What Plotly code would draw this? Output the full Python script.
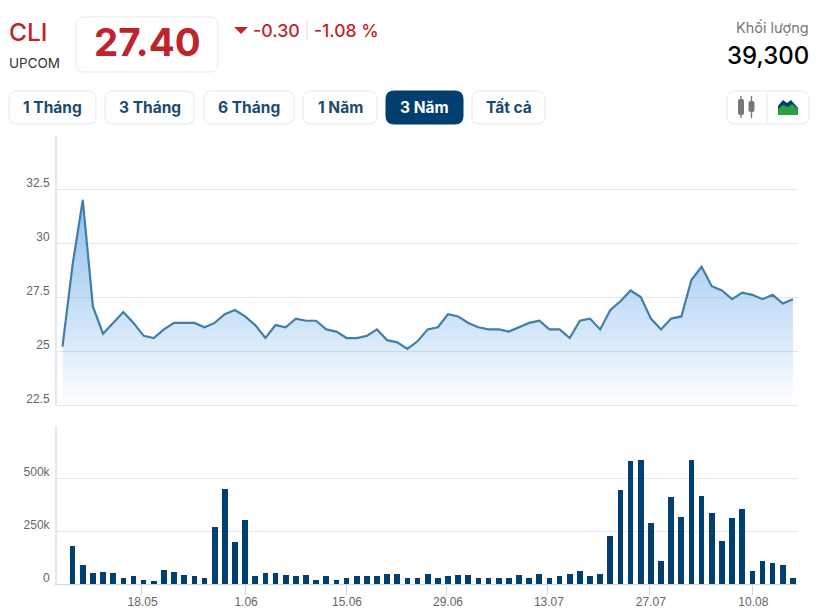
import plotly.graph_objects as go

W, H = 827, 609

price_idx = list(range(73))
close = [25.2, 29.0, 32.0, 27.05, 25.8, 26.3, 26.8, 26.3, 25.7, 25.6, 26.0, 26.3, 26.3, 26.3, 26.1, 26.3,
         26.7, 26.9, 26.6, 26.2, 25.6, 26.2, 26.1, 26.5, 26.4, 26.4, 26.0, 25.9, 25.6, 25.6, 25.7, 26.0,
         25.5, 25.4, 25.1, 25.45, 26.0, 26.1, 26.7, 26.6, 26.3, 26.1, 26.0, 26.0, 25.9, 26.1, 26.3, 26.4,
         26.0, 26.0, 25.6, 26.4, 26.5, 26.0, 26.9, 27.3, 27.8, 27.5, 26.5, 26.0, 26.5, 26.6, 28.3, 28.9,
         28.0, 27.8, 27.4, 27.7, 27.6, 27.4, 27.6, 27.2, 27.4]
floor_price = [22.5] * 73

volume_idx = list(range(1, 73))
volume = [185000, 91000, 54000, 59000, 54000, 33000, 38000, 22000, 17500, 70000, 59000, 43000, 38000, 29000,
          274000, 454000, 200000, 306000, 38000, 54000, 54000, 43000, 38000, 43000, 22000, 38000, 22000, 33000,
          38000, 38000, 38000, 48000, 48000, 33000, 33000, 48000, 33000, 38000, 43000, 43000, 33000, 29000,
          33000, 33000, 43000, 33000, 48000, 33000, 38000, 48000, 64000, 38000, 48000, 232000, 447000, 586000,
          591000, 290000, 113000, 416000, 322000, 591000, 420000, 338000, 207000, 317000, 358000, 64000, 113000,
          102000, 91000, 33000]

date_ticks = [7.8, 18, 27.95, 37.9, 47.85, 57.9, 68]
date_labels = ["18.05", "1.06", "15.06", "29.06", "13.07", "27.07", "10.08"]
price_ticks = [22.5, 25, 27.5, 30, 32.5, 35]
price_labels = ["22.5", "25", "27.5", "30", "32.5", ""]
vol_ticks = [0, 250000, 500000, 750000]
vol_labels = ["0", "250k", "500k", ""]

range_buttons = [("1 Tháng", 9, 96), ("3 Tháng", 105, 194), ("6 Tháng", 204, 294),
                 ("1 Năm", 303, 377), ("3 Năm", 386, 463), ("Tất cả", 472, 545)]
ACTIVE = "3 Năm"

NAVY = "#003f6f"
RED = "#c1232a"
GRID = "#e6e6e6"
AXIS = "#e3e7ee"
FONT = "Inter"
AXFONT = "Liberation Sans"


def px(x):
    return x / W


def py(y):
    return 1 - y / H


def rr(x0, y0, x1, y1, r):
    X0, X1, Y0, Y1 = px(x0), px(x1), py(y0), py(y1)
    rx, ry = r / W, r / H
    return (f"M {X0+rx} {Y0} L {X1-rx} {Y0} Q {X1} {Y0} {X1} {Y0-ry} L {X1} {Y1+ry} Q {X1} {Y1} {X1-rx} {Y1} "
            f"L {X0+rx} {Y1} Q {X0} {Y1} {X0} {Y1+ry} L {X0} {Y0-ry} Q {X0} {Y0} {X0+rx} {Y0} Z")


def poly(points):
    return "M " + " L ".join(f"{px(a)} {py(b)}" for a, b in points) + " Z"


def pshape(path, fill, line="rgba(0,0,0,0)", width=0):
    return dict(type="path", xref="paper", yref="paper", path=path, fillcolor=fill,
                line=dict(color=line, width=width), layer="above")


def label(text, x, y, size, color, anchor="left", weight=400):
    return dict(text=text, x=px(x), y=py(y), xref="paper", yref="paper", xanchor=anchor, yanchor="middle",
                showarrow=False, font=dict(family=FONT, size=size, color=color, weight=weight))


shapes = [pshape(rr(76, 17, 218, 72, 8), "white", "#e9e9e9", 1)]
annotations = [
    label("CLI", 7, 32, 24.5, RED, weight=500),
    label("UPCOM", 7, 63, 13.5, "#333333", weight=400),
    label("27.40", 147, 42, 38.5, RED, "center", 700),
    label("-0.30", 251, 30, 17.8, RED, weight=500),
    label("-1.08 %", 312, 30, 17.5, RED, weight=500),
    label("Khối lượng", 811, 28, 14.5, "#777777", "right"),
    label("39,300", 811, 55, 24, "#000000", "right", 500),
]
shapes.append(pshape(poly([(234, 27), (248, 27), (241, 34)]), RED))
shapes.append(dict(type="line", xref="paper", yref="paper", x0=px(307), x1=px(307), y0=py(20), y1=py(41),
                   line=dict(color="#dddddd", width=1)))

for name, x0, x1 in range_buttons:
    on = name == ACTIVE
    shapes.append(pshape(rr(x0, 91, x1, 124, 8), NAVY if on else "white", NAVY if on else "#e9e9e9", 1))
    annotations.append(label(name, (x0 + x1) / 2, 107, 15.5, "white" if on else "#1b4a70", "center", 700))

shapes.append(pshape(rr(727, 91, 809, 124, 8), "white", "#e9e9e9", 1))
shapes.append(dict(type="line", xref="paper", yref="paper", x0=px(767), x1=px(767), y0=py(91), y1=py(124),
                   line=dict(color="#e9e9e9", width=1)))
shapes.append(pshape(rr(738, 99, 744, 115, 2), "#777777"))
shapes.append(pshape(rr(740.3, 96, 741.7, 118, 0.5), "#777777"))
shapes.append(pshape(rr(748.5, 101, 754.5, 112, 2), "#777777"))
shapes.append(pshape(rr(750.8, 96, 752.2, 118, 0.5), "#777777"))
shapes.append(pshape(poly([(778, 106), (783, 100), (787, 103), (791, 100), (798, 108), (798, 114), (778, 114)]), NAVY))
shapes.append(pshape(poly([(778, 109), (783, 105), (788, 107), (792, 104), (798, 109), (798, 115), (778, 115)]), "#2e9e3f"))

fig = go.Figure()
fig.add_trace(go.Scatter(x=price_idx, y=floor_price, mode="lines", line=dict(width=0, color="rgba(0,0,0,0)"),
                         hoverinfo="skip", showlegend=False, xaxis="x", yaxis="y"))
fig.add_trace(go.Scatter(x=price_idx, y=close, mode="lines", line=dict(color="#417ea8", width=2.2),
                         fill="tonexty",
                         fillgradient=dict(type="vertical", start=32, stop=22.5,
                                           colorscale=[[0, "rgba(124,181,236,0.85)"],
                                                       [0.7, "rgba(124,181,236,0.28)"],
                                                       [1, "rgba(124,181,236,0.0)"]]),
                         showlegend=False, xaxis="x", yaxis="y"))
fig.add_trace(go.Bar(x=volume_idx, y=volume, width=0.56, marker=dict(color=NAVY, line=dict(width=0)),
                     showlegend=False, xaxis="x2", yaxis="y2"))

xrange_ = [-0.54, 72.5]
common_x = dict(range=xrange_, showgrid=False, zeroline=False, tickmode="array", tickvals=date_ticks, automargin=False)
common_y = dict(showgrid=True, gridcolor=GRID, gridwidth=1, zeroline=False, showline=True, linecolor=AXIS,
                linewidth=2, tickmode="array", ticks="", ticklabelposition="outside top", ticklabelstandoff=3,
                ticklabelshift=2, automargin=False, tickfont=dict(family=AXFONT, size=12, color="#666666"))
fig.update_layout(
    width=W, height=H, margin=dict(l=0, r=0, t=0, b=0), paper_bgcolor="white", plot_bgcolor="white",
    autosize=False, bargap=0, showlegend=False,
    xaxis=dict(domain=[px(57), px(798)], anchor="y", showticklabels=False, showline=True, linecolor=GRID, linewidth=1,
               **common_x),
    yaxis=dict(domain=[py(405), py(135)], range=[22.5, 35], tickvals=price_ticks, ticktext=price_labels,
               anchor="x", **common_y),
    xaxis2=dict(domain=[px(57), px(798)], anchor="y2", ticktext=date_labels, showline=True, linecolor="#ccd6eb",
                linewidth=1, ticks="outside", ticklen=10, tickcolor="#ccd6eb", tickwidth=1,
                ticklabelstandoff=-3, ticklabelshift=1,
                tickfont=dict(family=AXFONT, size=12, color="#666666"), **common_x),
    yaxis2=dict(domain=[py(584), py(425.5)], range=[0, 752000], tickvals=vol_ticks, ticktext=vol_labels,
                anchor="x2", **common_y),
    shapes=shapes, annotations=annotations,
)

fig.write_html("out.html", config={"displayModeBar": False},
               post_script="document.body.style.margin='0';document.body.style.overflow='hidden';")
